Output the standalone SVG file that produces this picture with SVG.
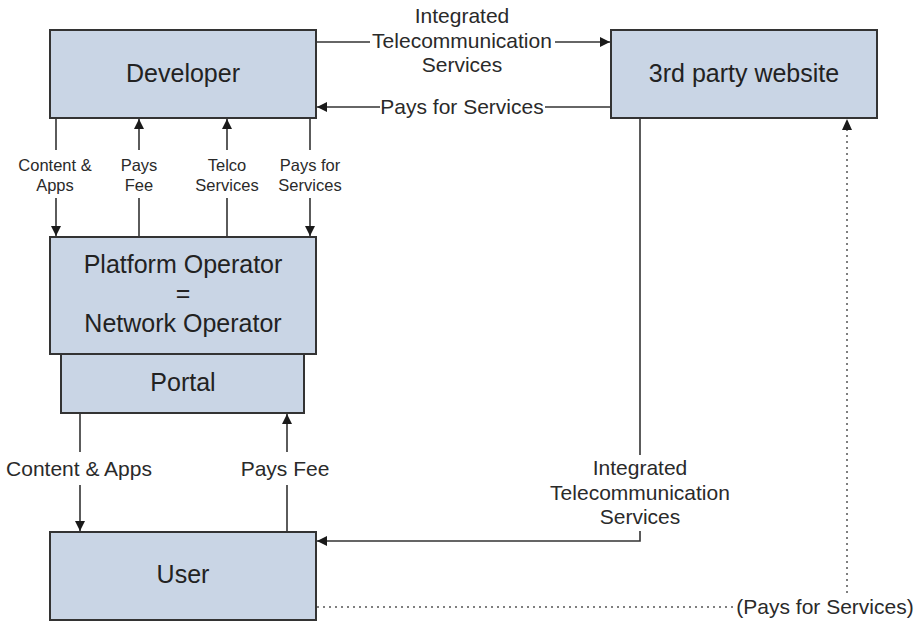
<svg xmlns="http://www.w3.org/2000/svg" width="919" height="621" viewBox="0 0 919 621">
<defs>
<marker id="ah" viewBox="0 0 10 10" refX="10" refY="5" markerWidth="10" markerHeight="10" markerUnits="userSpaceOnUse" orient="auto">
<path d="M0,0 L10,5 L0,10 z" fill="#1a1a1a"/>
</marker>
<style>
.box{fill:#c9d5e5;stroke:#333;stroke-width:2}
.big{font-family:"Liberation Sans",Arial,sans-serif;font-size:25px;fill:#222;text-anchor:middle}
.mid{font-family:"Liberation Sans",Arial,sans-serif;font-size:21px;fill:#2a2a2a;text-anchor:middle}
.sm{font-family:"Liberation Sans",Arial,sans-serif;font-size:16.5px;fill:#2a2a2a;text-anchor:middle}
.ln{fill:none;stroke:#333;stroke-width:1.6}
.dot{fill:none;stroke:#555;stroke-width:1.5;stroke-dasharray:2 4}
</style>
</defs>
<rect width="919" height="621" fill="#fff"/>
<g id="connectors">
<line class="ln" x1="316" y1="42" x2="370" y2="42"/>
<line class="ln" x1="555" y1="42" x2="610" y2="42" marker-end="url(#ah)"/>
<line class="ln" x1="611" y1="107" x2="545" y2="107"/>
<line class="ln" x1="380" y1="107" x2="317" y2="107" marker-end="url(#ah)"/>
<line class="ln" x1="56" y1="118" x2="56" y2="150"/>
<line class="ln" x1="56" y1="198" x2="56" y2="236" marker-end="url(#ah)"/>
<line class="ln" x1="139" y1="236" x2="139" y2="198"/>
<line class="ln" x1="139" y1="150" x2="139" y2="119" marker-end="url(#ah)"/>
<line class="ln" x1="227" y1="236" x2="227" y2="198"/>
<line class="ln" x1="227" y1="150" x2="227" y2="119" marker-end="url(#ah)"/>
<line class="ln" x1="310" y1="118" x2="310" y2="150"/>
<line class="ln" x1="310" y1="198" x2="310" y2="236" marker-end="url(#ah)"/>
<line class="ln" x1="80" y1="413" x2="80" y2="452"/>
<line class="ln" x1="80" y1="485" x2="80" y2="531" marker-end="url(#ah)"/>
<line class="ln" x1="287" y1="532" x2="287" y2="485"/>
<line class="ln" x1="287" y1="452" x2="287" y2="414" marker-end="url(#ah)"/>
<line class="ln" x1="640" y1="118" x2="640" y2="455"/>
<polyline class="ln" points="640,531 640,541 317,541" marker-end="url(#ah)"/>
<line class="dot" x1="317" y1="607" x2="736" y2="607"/>
<line class="dot" x1="847" y1="593" x2="847" y2="130"/>
<path d="M842,130 L847,119 L852,130 z" fill="#1a1a1a"/>
<text class="mid" x="462" y="23">Integrated</text>
<text class="mid" x="462" y="48">Telecommunication</text>
<text class="mid" x="462" y="72">Services</text>
<text class="mid" x="462" y="114">Pays for Services</text>
<text class="sm" x="55" y="171">Content &amp;</text>
<text class="sm" x="55" y="191">Apps</text>
<text class="sm" x="139" y="171">Pays</text>
<text class="sm" x="139" y="191">Fee</text>
<text class="sm" x="227" y="171">Telco</text>
<text class="sm" x="227" y="191">Services</text>
<text class="sm" x="310" y="171">Pays for</text>
<text class="sm" x="310" y="191">Services</text>
<text class="mid" x="79" y="476">Content &amp; Apps</text>
<text class="mid" x="285" y="476">Pays Fee</text>
<text class="mid" x="640" y="475">Integrated</text>
<text class="mid" x="640" y="500">Telecommunication</text>
<text class="mid" x="640" y="524">Services</text>
<text class="mid" x="825" y="614">(Pays for Services)</text>
</g>
<g id="developer">
<rect class="box" x="50" y="30" width="266" height="88"/>
<text class="big" x="183" y="82">Developer</text>
</g>
<g id="third-party">
<rect class="box" x="611" y="30" width="266" height="88"/>
<text class="big" x="744" y="82">3rd party website</text>
</g>
<g id="platform">
<rect class="box" x="50" y="237" width="266" height="117"/>
<text class="big" x="183" y="273">Platform Operator</text>
<text class="big" x="183" y="302">=</text>
<text class="big" x="183" y="332">Network Operator</text>
</g>
<g id="portal">
<rect class="box" x="61" y="354" width="243" height="59"/>
<text class="big" x="183" y="391">Portal</text>
</g>
<g id="user">
<rect class="box" x="50" y="532" width="266" height="88"/>
<text class="big" x="183" y="583">User</text>
</g>
</svg>
